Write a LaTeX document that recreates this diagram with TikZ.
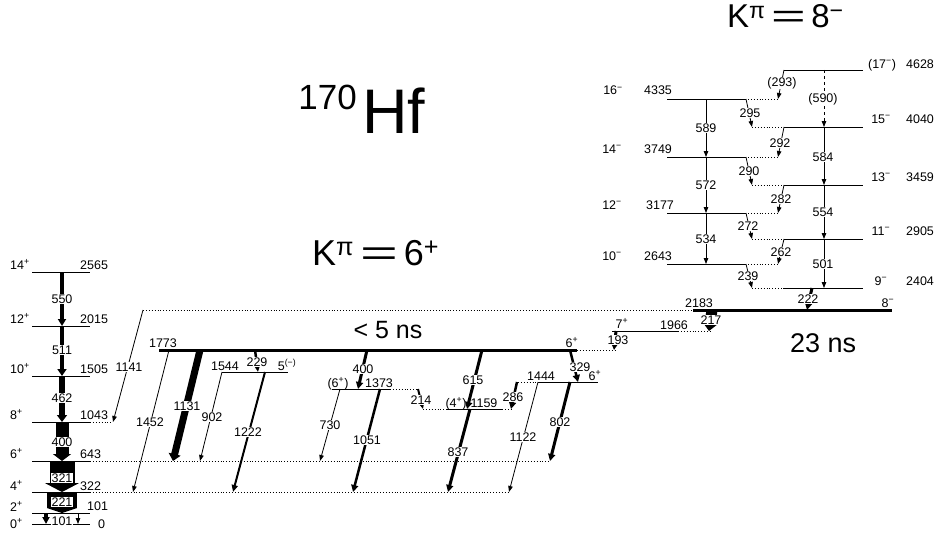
\documentclass[tikz,border=0pt]{standalone}
\usepackage{fontspec}
\usepackage{graphicx}
\setmainfont{Liberation Sans}
\usetikzlibrary{arrows.meta}

\begin{document}
\begin{tikzpicture}[
    x=1pt, y=-1pt,
    lvl/.style={line width=0.9pt},
    iso/.style={line width=3pt},
    ext/.style={dotted, line width=0.9pt},
    gam/.style={line width=0.8pt, -{Triangle[length=6pt, width=4.5pt]}},
    gamw/.style 2 args={line width=#1, -{Triangle[length=7pt, width=#2]}},
    glab/.style={fill=white, inner sep=0.6pt, font=\fontsize{12.5}{12.5}\selectfont},
    elab/.style={inner sep=0pt, anchor=base, font=\fontsize{12.5}{12.5}\selectfont},
    slab/.style={inner sep=0pt, anchor=base west, font=\fontsize{12.5}{12.5}\selectfont},
    title/.style={inner sep=0pt, anchor=base west},
]
\useasboundingbox (0,0) rectangle (937,535);

% Titles
\node[title, anchor=base east, font=\fontsize{35}{35}\selectfont] (mass) at (357,110) {170};
\node[title, font=\fontsize{63}{63}\selectfont] (elem) at (362,133) {Hf};
\node[title, font=\fontsize{36}{36}\selectfont] (k6) at (312,265) {K\textsuperscript{π}\,\scalebox{1.8}[1]{=}\,6\textsuperscript{+}};
\node[title, font=\fontsize{33}{33}\selectfont] (k8) at (727,28) {K\textsuperscript{π}\,\scalebox{1.8}[1]{=}\,8\textsuperscript{−}};
\node[inner sep=0pt, anchor=base, font=\fontsize{25}{25}\selectfont] (t6) at (388,338) {< 5 ns};
\node[title, font=\fontsize{27}{27}\selectfont] (t8) at (790,352) {23 ns};

% Ground band
\draw[lvl] (32,272) coordinate (L2565) -- (90,272);
\draw[lvl] (32,326) coordinate (L2015) -- (90,326);
\draw[lvl] (32,376) coordinate (L1505) -- (90,376);
\draw[lvl] (32,422) coordinate (L1043) -- (90,422);
\draw[lvl] (32,461) coordinate (L643) -- (90,461);
\draw[lvl] (32,492) coordinate (L322) -- (90,492);
\draw[lvl] (32,513) coordinate (L101) -- (90,513);
\draw[lvl] (32,524) coordinate (L0) -- (90,524);
\draw[ext] (90,422) -- (113,422);
\draw[ext] (90,461) -- (550,461);
\draw[ext] (90,492) -- (510,492);

\node[slab] (s14) at (10,269) {14\textsuperscript{+}};
\node[slab] (s12) at (10,323) {12\textsuperscript{+}};
\node[slab] (s10) at (10,373) {10\textsuperscript{+}};
\node[slab] (s8) at (10,419) {8\textsuperscript{+}};
\node[slab] (s6) at (10,458) {6\textsuperscript{+}};
\node[slab] (s4) at (10,490) {4\textsuperscript{+}};
\node[slab] (s2) at (10,511) {2\textsuperscript{+}};
\node[slab] (s0) at (10,528) {0\textsuperscript{+}};
\node[slab] (e2565) at (80,269) {2565};
\node[slab] (e2015) at (80,323) {2015};
\node[slab] (e1505) at (80,373) {1505};
\node[slab] (e1043) at (80,419) {1043};
\node[slab] (e643) at (80,458) {643};
\node[slab] (e322) at (80,490) {322};
\node[slab] (e101) at (87,510) {101};
\node[slab] (e0) at (98,528) {0};

\draw[gamw={3.5pt}{8pt}] (62,0 |- L2565) -- (62,0 |- L2015);
\draw[gamw={4.5pt}{9pt}] (62,0 |- L2015) -- (62,0 |- L1505);
\draw[gamw={6pt}{10pt}] (62,0 |- L1505) -- (62,0 |- L1043);
\draw[gamw={13pt}{18pt}] (62,0 |- L1043) -- (62,0 |- L643);
\draw[line width=25pt, -{Triangle[length=9pt, width=34pt]}] (62,0 |- L643) -- (62,0 |- L322);
\draw[line width=30pt, -{Triangle[length=5pt, width=30pt]}] (62,0 |- L322) -- (62,0 |- L101);
\draw[gamw={4pt}{7pt}] (46,0 |- L101) -- (46,0 |- L0);
\draw[gam] (78,0 |- L101) -- (78,0 |- L0);
\node[glab] (g550) at (62,299) {550};
\node[glab] (g511) at (62,350) {511};
\node[glab] (g462) at (62,398) {462};
\node[glab] (g400a) at (62,442) {400};
\node[glab] (g321) at (62,478) {321};
\node[glab] (g221) at (62,502) {221};
\node[glab] (g101) at (62,521) {101};

% K = 6+ band
\draw[ext] (143,310) coordinate (D2183) -- (693,310);
\draw[iso] (159,350) coordinate (L1773) -- (577,350);
\draw[ext] (577,350) -- (616,350);
\draw[lvl] (222,372) coordinate (L1544) -- (288,372);
\draw[lvl] (332,389) coordinate (L1373) -- (390,389);
\draw[ext] (390,389) -- (418,389);
\draw[lvl] (447,409) coordinate (L1159) -- (502,409);
\draw[ext] (423,409) -- (447,409);
\draw[ext] (502,409) -- (511,409);
\draw[lvl] (538,382) coordinate (L1444) -- (598,382);
\draw[ext] (518,382) -- (538,382);
\draw[lvl] (612,331) coordinate (L1966) -- (678,331);
\draw[ext] (678,331) -- (710,331);
\draw[iso] (693,310) coordinate (L2183) -- (892,310);

\node[elab] (e1773) at (163,347) {1773};
\node[elab] (s1773) at (572,347) {6\textsuperscript{+}};
\node[elab] (e1544) at (225,370) {1544};
\node[elab] (s1544) at (287,370) {5\textsuperscript{(−)}};
\node[elab] (s1373) at (338,387) {(6\textsuperscript{+})};
\node[elab] (e1373) at (379,387) {1373};
\node[elab] (s1159) at (456,407) {(4\textsuperscript{+})};
\node[elab] (e1159) at (484,407) {1159};
\node[elab] (e1444) at (541,380) {1444};
\node[elab] (s1444) at (595,380) {6\textsuperscript{+}};
\node[elab] (s1966) at (622,328) {7\textsuperscript{+}};
\node[elab] (e1966) at (674,329) {1966};
\node[elab] (e2183) at (699,307) {2183};
\node[elab] (s2183) at (888,307) {8\textsuperscript{−}};

\draw[gam] (143,0 |- D2183) -- (113,0 |- L1043);
\draw[gam] (169,0 |- L1773) -- (133,0 |- L322);
\draw[gamw={7pt}{12pt}] (200,0 |- L1773) -- (173,0 |- L643);
\draw[gamw={2.5pt}{6pt}] (255,0 |- L1773) -- (258,0 |- L1544);
\draw[gam] (222,0 |- L1544) -- (200,0 |- L643);
\draw[gamw={2pt}{6pt}] (265,0 |- L1544) -- (233,0 |- L322);
\draw[gamw={3pt}{7pt}] (367,0 |- L1773) -- (358,0 |- L1373);
\draw[gam] (340,0 |- L1373) -- (320,0 |- L643);
\draw[gamw={2.5pt}{7pt}] (380,0 |- L1373) -- (353,0 |- L322);
\draw[gamw={2pt}{6pt}] (418,0 |- L1373) -- (423,0 |- L1159);
\draw[gamw={3pt}{7pt}] (482,0 |- L1773) -- (467,0 |- L1159);
\draw[gamw={3pt}{7pt}] (470,0 |- L1159) -- (448,0 |- L322);
\draw[gamw={2.5pt}{7pt}] (570,0 |- L1773) -- (578,0 |- L1444);
\draw[gamw={2.5pt}{7pt}] (517,0 |- L1444) -- (511,0 |- L1159);
\draw[gam] (538,0 |- L1444) -- (509,0 |- L322);
\draw[gamw={3pt}{7pt}] (570,0 |- L1444) -- (550,0 |- L643);
\draw[gamw={3pt}{7pt}] (616,0 |- L1966) -- (614,0 |- L1773);
\draw[gamw={11pt}{13pt}] (712,0 |- L2183) -- (709,0 |- L1966);

\node[glab] (g1141) at (129,367) {1141};
\node[glab] (g1452) at (150,422) {1452};
\node[glab] (g1131) at (187,406) {1131};
\node[glab] (g229) at (257,362) {229};
\node[glab] (g902) at (212,417) {902};
\node[glab] (g1222) at (248,432) {1222};
\node[glab] (g400b) at (363,369) {400};
\node[glab] (g730) at (330,425) {730};
\node[glab] (g1051) at (367,440) {1051};
\node[glab] (g214) at (421,400) {214};
\node[glab] (g615) at (473,380) {615};
\node[glab] (g837) at (458,452) {837};
\node[glab] (g329) at (580,367) {329};
\node[glab] (g286) at (513,397) {286};
\node[glab] (g1122) at (523,437) {1122};
\node[glab] (g802) at (560,422) {802};
\node[glab] (g193) at (618,340) {193};
\node[glab] (g217) at (711,320) {217};

% K = 8- band
\draw[lvl] (783,288) coordinate (L2404) -- (863,288);
\draw[lvl] (784,239) coordinate (L2905) -- (863,239);
\draw[lvl] (784,185) coordinate (L3459) -- (863,185);
\draw[lvl] (784,127) coordinate (L4040) -- (863,127);
\draw[lvl] (784,70) coordinate (L4628) -- (863,70);
\draw[lvl] (667,264) coordinate (L2643) -- (745,264);
\draw[lvl] (667,213) coordinate (L3177) -- (745,213);
\draw[lvl] (667,157) coordinate (L3749) -- (745,157);
\draw[lvl] (667,99) coordinate (L4335) -- (745,99);
\foreach \yy in {99,157,213,264} \draw[ext] (745,\yy) -- (778,\yy);
\foreach \yy in {127,185,239,288} \draw[ext] (752,\yy) -- (783,\yy);

\node[elab] (s2404) at (881,285) {9\textsuperscript{−}};
\node[elab] (e2404) at (920,285) {2404};
\node[elab] (s2905) at (881,235) {11\textsuperscript{−}};
\node[elab] (e2905) at (920,235) {2905};
\node[elab] (s3459) at (881,181) {13\textsuperscript{−}};
\node[elab] (e3459) at (920,181) {3459};
\node[elab] (s4040) at (881,123) {15\textsuperscript{−}};
\node[elab] (e4040) at (920,123) {4040};
\node[elab] (s4628) at (882,68) {(17\textsuperscript{−})};
\node[elab] (e4628) at (920,68) {4628};
\node[elab] (s2643) at (612,260) {10\textsuperscript{−}};
\node[elab] (e2643) at (658,260) {2643};
\node[elab] (s3177) at (612,209) {12\textsuperscript{−}};
\node[elab] (e3177) at (660,209) {3177};
\node[elab] (s3749) at (612,153) {14\textsuperscript{−}};
\node[elab] (e3749) at (658,153) {3749};
\node[elab] (s4335) at (613,95) {16\textsuperscript{−}};
\node[elab] (e4335) at (658,95) {4335};

\draw[gamw={3pt}{7pt}] (812,0 |- L2404) -- (807,0 |- L2183);
\draw[gam] (746,0 |- L2643) -- (752,0 |- L2404);
\draw[gam] (784,0 |- L2905) -- (778,0 |- L2643);
\draw[gam] (746,0 |- L3177) -- (752,0 |- L2905);
\draw[gam] (784,0 |- L3459) -- (778,0 |- L3177);
\draw[gam] (746,0 |- L3749) -- (752,0 |- L3459);
\draw[gam] (784,0 |- L4040) -- (778,0 |- L3749);
\draw[gam] (746,0 |- L4335) -- (752,0 |- L4040);
\draw[gam] (784,0 |- L4628) -- (778,0 |- L4335);
\draw[gam] (706,0 |- L4335) -- (706,0 |- L3749);
\draw[gam] (706,0 |- L3749) -- (706,0 |- L3177);
\draw[gam] (706,0 |- L3177) -- (706,0 |- L2643);
\draw[gam, dashed] (824,0 |- L4628) -- (824,0 |- L4040);
\draw[gam] (824,0 |- L4040) -- (824,0 |- L3459);
\draw[gam] (824,0 |- L3459) -- (824,0 |- L2905);
\draw[gam] (824,0 |- L2905) -- (824,0 |- L2404);

\node[glab] (g222) at (808,299) {222};
\node[glab] (g239) at (748,276) {239};
\node[glab] (g262) at (781,252) {262};
\node[glab] (g272) at (748,226) {272};
\node[glab] (g282) at (781,199) {282};
\node[glab] (g290) at (749,171) {290};
\node[glab] (g292) at (780,143) {292};
\node[glab] (g295) at (750,113) {295};
\node[glab] (g293) at (782,83) {(293)};
\node[glab] (g589) at (706,128) {589};
\node[glab] (g572) at (706,185) {572};
\node[glab] (g534) at (706,239) {534};
\node[glab] (g590) at (823,99) {(590)};
\node[glab] (g584) at (823,157) {584};
\node[glab] (g554) at (823,212) {554};
\node[glab] (g501) at (823,264) {501};

\end{tikzpicture}
\end{document}
